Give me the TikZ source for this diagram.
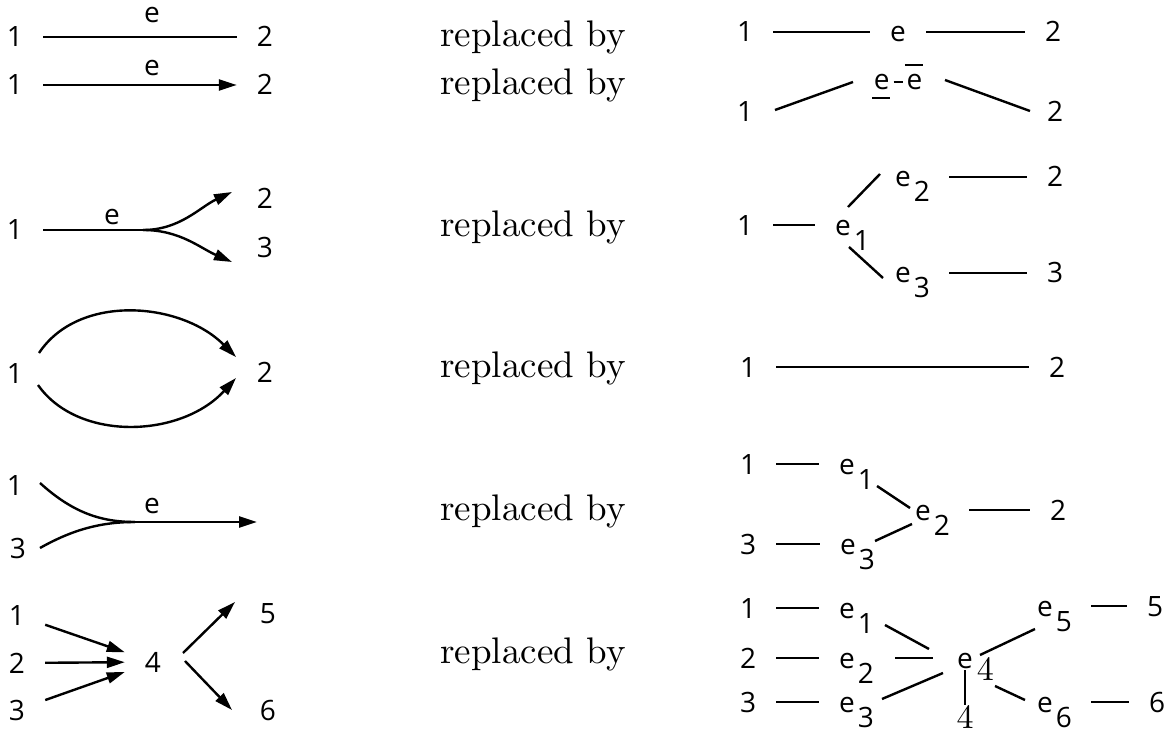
\documentclass[tikz,border=0pt]{standalone}
\usepackage{fontspec}
\newfontfamily\plotfont{Open Sans}
\newfontfamily\repfont{lmroman10-regular.otf}
\usetikzlibrary{arrows.meta}
\newcommand{\esub}[1]{e\rlap{\kern1.5pt\smash{\raisebox{-7.5pt}{#1}}}}
\newcommand{\efour}{e\rlap{\kern2pt\smash{\raisebox{-6pt}{\repfont\fontsize{17}{17}\selectfont 4}}}}
\newcommand{\eunder}{\rlap{\kern-0.8pt\raisebox{-4.5pt}{\rule{9pt}{1pt}}}e}
\newcommand{\eover}{\rlap{\kern-0.8pt\raisebox{12pt}{\rule{9pt}{1pt}}}e}
\newcommand{\edash}{\raisebox{3.4pt}{\rule{4.5pt}{1pt}}}
\begin{document}
\begin{tikzpicture}[x=0.5pt,y=-0.5pt,line width=1.2pt,
	lab/.style={font=\plotfont\fontsize{14}{14}\selectfont,inner xsep=9.5pt,inner ysep=2pt,text height=10pt,text depth=0pt},
	rep/.style={font=\repfont\fontsize{18.5}{20}\selectfont,anchor=base},
	arr/.style={-{Triangle[length=9pt,width=5.5pt]}},
	subgap/.style={shorten <=9pt}]
	\useasboundingbox (0,0) rectangle (1174,733);
	% row 1
	\node[lab] (l1a) at (15,37) {1};
	\node[lab] (l1b) at (265,37) {2};
	\node[lab] (l1e) at (152,13) {e};
	\draw (l1a) -- (l1b);
	\node[rep] (rep1) at (533,47) {replaced by};
	\node[lab] (r1a) at (745,32) {1};
	\node[lab] (r1e) at (898,32) {e};
	\node[lab] (r1b) at (1053,32) {2};
	\draw (r1a) -- (r1e) -- (r1b);
	% row 2
	\node[lab] (l2a) at (15,85) {1};
	\node[lab] (l2b) at (265,85) {2};
	\node[lab] (l2e) at (152,66) {e};
	\draw[arr] (l2a) -- (l2b);
	\node[rep] (rep2) at (533,95) {replaced by};
	\node[lab] (r2a) at (745,112) {1};
	\node[lab] (r2e) at (898,80) {\eunder\kern2pt\edash\kern2pt\eover};
	\node[lab] (r2b) at (1055,112) {2};
	\draw ([shift={(15pt,1pt)}]r2a.center) -- ([shift={(-22.5pt,-1pt)}]r2e.center);
	\draw ([shift={(23.5pt,0pt)}]r2e.center) -- ([shift={(-12.5pt,0.5pt)}]r2b.center);
	% row 3
	\node[lab] (l3a) at (15,230) {1};
	\node[lab] (l3e) at (112,215) {e};
	\node[lab] (l3b) at (265,199) {2};
	\node[lab] (l3c) at (265,247) {3};
	\coordinate (l3j) at (143,230);
	\coordinate (l3u) at (232,192);
	\coordinate (l3d) at (232,262);
	\draw (l3a) -- (l3j);
	\draw[arr] (l3j) .. controls (180,230) and (200,207) .. (l3u);
	\draw[arr] (l3j) .. controls (180,230) and (200,248) .. (l3d);
	\node[rep] (rep3) at (533,236) {replaced by};
	\node[lab] (r3a) at (745,225) {1};
	\node[lab] (r3e1) at (843,225) {\esub{1}};
	\node[lab] (r3e2) at (903,177) {\esub{2}};
	\node[lab] (r3e3) at (903,273) {\esub{3}};
	\node[lab] (r3b) at (1055,177) {2};
	\node[lab] (r3c) at (1055,273) {3};
	\draw (r3a) -- (r3e1);
	\draw ([shift={(2.5pt,9pt)}]r3e1.center) -- ([shift={(-11.5pt,1.5pt)}]r3e2.center);
	\draw ([shift={(3pt,-11pt)}]r3e1.center) -- ([shift={(-10pt,-2.5pt)}]r3e3.center);
	\draw[subgap] (r3e2) -- (r3b);
	\draw[subgap] (r3e3) -- (r3c);
	% row 4
	\node[lab] (l4a) at (15,373) {1};
	\node[lab] (l4b) at (265,372) {2};
	\draw[arr] ([shift={(12pt,10pt)}]l4a.center) .. controls (79,293) and (181,302) .. ([shift={(-14.5pt,7.5pt)}]l4b.center);
	\draw[arr] ([shift={(11.5pt,-6pt)}]l4a.center) .. controls (78,442) and (181,438) .. ([shift={(-14.5pt,-3pt)}]l4b.center);
	\node[rep] (rep4) at (533,377) {replaced by};
	\node[lab] (r4a) at (748,367) {1};
	\node[lab] (r4b) at (1057,367) {2};
	\draw (r4a) -- (r4b);
	% row 5
	\node[lab] (l5a) at (15,485) {1};
	\node[lab] (l5c) at (18,548) {3};
	\node[lab] (l5e) at (152,503) {e};
	\coordinate (l5j) at (135,522);
	\coordinate (l5t) at (257,522);
	\draw ([shift={(12.5pt,1pt)}]l5a.center) .. controls (72,512) and (100,522) .. (l5j);
	\draw ([shift={(11pt,0pt)}]l5c.center) .. controls (72,530) and (100,522) .. (l5j);
	\draw[arr] (l5j) -- (l5t);
	\node[rep] (rep5) at (533,520) {replaced by};
	\node[lab] (r5a) at (748,464) {1};
	\node[lab] (r5c) at (748,544) {3};
	\node[lab] (r5e1) at (847,464) {\esub{1}};
	\node[lab] (r5e3) at (848,544) {\esub{3}};
	\node[lab] (r5e2) at (923,510) {\esub{2}};
	\node[lab] (r5b) at (1058,510) {2};
	\draw (r5a) -- (r5e1);
	\draw (r5c) -- (r5e3);
	\draw ([shift={(15pt,-11pt)}]r5e1.center) -- ([shift={(-6.5pt,1pt)}]r5e2.center);
	\draw ([shift={(13.5pt,1.5pt)}]r5e3.center) -- ([shift={(-5.5pt,-7pt)}]r5e2.center);
	\draw[subgap] (r5e2) -- (r5b);
	% row 6
	\node[lab] (l6a) at (17,615) {1};
	\node[lab] (l6b) at (17,663) {2};
	\node[lab] (l6c) at (17,710) {3};
	\node[lab] (l6d) at (153,662) {4};
	\node[lab] (l6e) at (268,613) {5};
	\node[lab] (l6f) at (268,710) {6};
	\draw[arr] (l6a) -- (l6d);
	\draw[arr] (l6b) -- (l6d);
	\draw[arr] (l6c) -- (l6d);
	\draw[arr] ([shift={(15pt,4.5pt)}]l6d.center) -- ([shift={(-16.5pt,5.5pt)}]l6e.center);
	\draw[arr] ([shift={(16pt,0.5pt)}]l6d.center) -- ([shift={(-18pt,0pt)}]l6f.center);
	\node[rep] (rep6) at (533,663) {replaced by};
	\node[lab] (r6a) at (748,608) {1};
	\node[lab] (r6b) at (748,658) {2};
	\node[lab] (r6c) at (748,702) {3};
	\node[lab] (r6e1) at (847,608) {\esub{1}};
	\node[lab] (r6e2) at (847,658) {\esub{2}};
	\node[lab] (r6e3) at (847,702) {\esub{3}};
	\node[lab] (r6e4) at (965,658) {\efour};
	\node[lab,font=\repfont\fontsize{17}{17}\selectfont] (r6d) at (965,718) {4};
	\node[lab] (r6e5) at (1045,606) {\esub{5}};
	\node[lab] (r6e6) at (1045,702) {\esub{6}};
	\node[lab] (r6f) at (1155,606) {5};
	\node[lab] (r6g) at (1157,702) {6};
	\draw (r6a) -- (r6e1);
	\draw (r6b) -- (r6e2);
	\draw (r6c) -- (r6e3);
	\draw ([shift={(19pt,-8.5pt)}]r6e1.center) -- ([shift={(-18pt,4.5pt)}]r6e4.center);
	\draw ([shift={(24pt,0pt)}]r6e2.center) -- ([shift={(-16pt,0pt)}]r6e4.center);
	\draw ([shift={(17.5pt,1.5pt)}]r6e3.center) -- ([shift={(-11pt,-7.5pt)}]r6e4.center);
	\draw ([shift={(0pt,-6pt)}]r6e4.center) -- ([shift={(0pt,6.5pt)}]r6d.center);
	\draw ([shift={(7.5pt,1.5pt)}]r6e4.center) -- ([shift={(-5pt,-11.5pt)}]r6e5.center);
	\draw ([shift={(15pt,-14pt)}]r6e4.center) -- ([shift={(-10pt,1pt)}]r6e6.center);
	\draw[subgap] (r6e5) -- (r6f);
	\draw[subgap] (r6e6) -- (r6g);
\end{tikzpicture}
\end{document}
